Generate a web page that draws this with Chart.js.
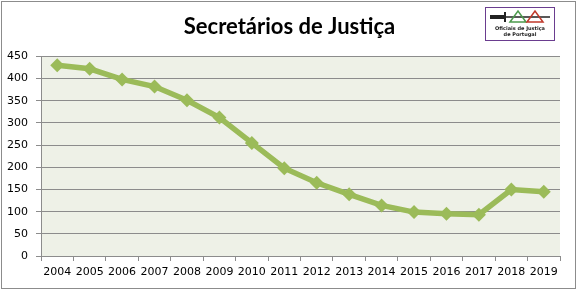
<!DOCTYPE html>
<html>
<head>
<meta charset="utf-8">
<script src="https://cdn.jsdelivr.net/npm/chart.js@4"></script>
<style>
    body { margin: 0; background: #fff; }
    #wrap { width: 579px; height: 291px; }
</style>
</head>
<body>
<div id="wrap"><canvas id="chart" width="579" height="291"></canvas></div>
<script>
const years = ['2004', '2005', '2006', '2007', '2008', '2009', '2010', '2011',
    '2012', '2013', '2014', '2015', '2016', '2017', '2018', '2019'];
const secretarios = [430, 422, 398, 382, 351, 312, 255, 198,
    165, 139, 114, 99, 95, 93, 150, 145];
const titleText = 'Secretários de Justiça';
const logoLines = ['Oficiais de Justiça', 'de Portugal'];

// plot background + outer frame + little logo box
const decor = {
    id: 'decor',
    beforeDraw(chart) {
        const { ctx, chartArea: a } = chart;
        ctx.save();
        ctx.fillStyle = '#eef1e7';
        ctx.fillRect(a.left, a.top, a.right - a.left, a.bottom - a.top);
        ctx.restore();
    },
    afterDraw(chart) {
        const ctx = chart.ctx;
        ctx.save();
        ctx.strokeStyle = '#8c8c8c';
        ctx.lineWidth = 1;
        ctx.strokeRect(1.5, 1.5, 574, 287);

        // logo
        ctx.strokeStyle = '#6a3d8f';
        ctx.strokeRect(485.5, 7.5, 69, 33);
        // sword
        ctx.strokeStyle = '#222';
        ctx.lineWidth = 1.5;
        ctx.beginPath();
        ctx.moveTo(490, 17); ctx.lineTo(550, 17);
        ctx.stroke();
        ctx.fillStyle = '#222';
        ctx.fillRect(490, 15, 16, 4);
        ctx.fillRect(504, 12, 2, 10);
        // triangles
        ctx.lineWidth = 1.5;
        ctx.strokeStyle = '#4c9a4c';
        ctx.beginPath();
        ctx.moveTo(510, 22); ctx.lineTo(518, 11); ctx.lineTo(526, 22); ctx.closePath();
        ctx.stroke();
        ctx.strokeStyle = '#c0392b';
        ctx.beginPath();
        ctx.moveTo(527, 22); ctx.lineTo(535, 11); ctx.lineTo(543, 22); ctx.closePath();
        ctx.stroke();
        ctx.fillStyle = '#222';
        ctx.font = 'bold 5px "DejaVu Sans"';
        ctx.textAlign = 'center';
        ctx.fillText(logoLines[0], 520, 30);
        ctx.fillText(logoLines[1], 520, 36);
        ctx.restore();
    }
};

new Chart(document.getElementById('chart'), {
    type: 'line',
    data: {
        labels: years,
        datasets: [{
            data: secretarios,
            borderColor: '#9bbb59',
            backgroundColor: '#9bbb59',
            borderWidth: 5.5,
            pointStyle: 'rectRot',
            pointRadius: 7,
            pointBorderWidth: 0,
            tension: 0
        }]
    },
    options: {
        responsive: false,
        animation: false,
        layout: { padding: 0 },
        plugins: {
            legend: { display: false },
            tooltip: { enabled: false },
            title: {
                display: true,
                text: titleText,
                color: '#000',
                font: { family: 'Lato', size: 22, weight: 'bold' },
                padding: { top: 14, bottom: 16 }
            }
        },
        scales: {
            x: {
                offset: true,
                grid: { offset: true, drawOnChartArea: false, drawTicks: true, tickLength: 5, color: '#8c8c8c' },
                border: { color: '#8c8c8c' },
                ticks: { color: '#000', padding: 5, maxRotation: 0, autoSkip: false, font: { family: 'DejaVu Sans', size: 11 } },
                afterFit(scale) { scale.height = 35; }
            },
            y: {
                min: 0,
                max: 450,
                ticks: { stepSize: 50, color: '#000', padding: 8, font: { family: 'DejaVu Sans', size: 11 } },
                grid: { color: '#8c8c8c', tickLength: 5 },
                border: { color: '#8c8c8c' },
                afterFit(scale) { scale.width = 41; }
            },
            // empty right axis, only keeps the gap on the right
            gap: {
                position: 'right',
                min: 0,
                max: 450,
                ticks: { display: false },
                grid: { display: false },
                border: { display: false },
                afterFit(scale) { scale.width = 19; }
            }
        }
    },
    plugins: [decor]
});
</script>
</body>
</html>
